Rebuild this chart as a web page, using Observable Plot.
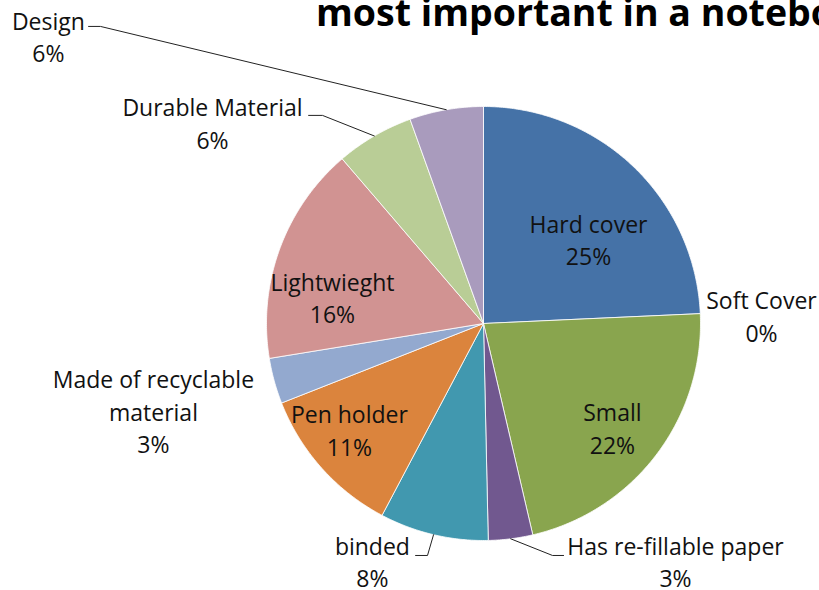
<!DOCTYPE html>
<html>
<head>
<meta charset="utf-8">
<script src="https://cdn.jsdelivr.net/npm/d3@7"></script>
<script src="https://cdn.jsdelivr.net/npm/@observablehq/plot@0.6"></script>
<style>
  html, body { margin: 0; padding: 0; background: #fff; width: 819px; height: 590px; overflow: hidden; }
  #wrap { position: relative; width: 819px; height: 590px; overflow: hidden; }
  #title { position: absolute; left: 316px; top: -7px; white-space: nowrap; line-height: 1;
           font-family: "Open Sans", sans-serif; font-weight: 700; font-size: 37.5px; color: #000; }
  svg { position: absolute; left: 0; top: 0; }
</style>
</head>
<body>
<div id="wrap">
  <div id="title">most important in a notebook</div>
</div>
<script>
// ---- data ----
const categories = ["Hard cover", "Soft Cover", "Small", "Has re-fillable paper", "binded",
                    "Pen holder", "Made of recyclable material", "Lightwieght", "Durable Material", "Design"];
const shares = [24.3, 0, 22.1, 3.3, 8.1, 11.3, 3.4, 16.3, 5.8, 5.5];
const pctLabels = ["25%", "0%", "22%", "3%", "8%", "11%", "3%", "16%", "6%", "6%"];
const labelText = ["Hard cover", "Soft Cover", "Small", "Has re-fillable paper", "binded",
                   "Pen holder", "Made of recyclable\nmaterial", "Lightwieght", "Durable Material", "Design"];

// ---- styles ----
const colors = ["#4572A7", "#AA4643", "#89A54E", "#71588F", "#4198AF",
                "#DB843D", "#93A9CF", "#D19392", "#B9CD96", "#A99BBD"];

// ---- label layout (in pie-radius units, center = 0,0) ----
const labelPos = [[0.484, 0.392], [1.281, 0.039], [0.594, -0.477], [0.885, -1.092], [-0.512, -1.092],
                  [-0.618, -0.486], [-1.521, -0.401], [-0.696, 0.124], [-1.249, 0.928], [-2.005, 1.327]];
// leader elbows: [elbowX, elbowY, endX] or null
const leaders = [null, null, null, [0.318, -1.069, 0.369], [-0.258, -1.069, -0.313],
                 null, null, null, [-0.742, 0.959, -0.806], [-1.765, 1.369, -1.820]];

// ---- build geometry from data ----
const pie = d3.pie().sort(null).value(d => d)(shares);
const slices = [];
pie.forEach((p, i) => {
  if (p.value <= 0) return;
  const name = categories[i];
  slices.push({name, x: 0, y: 0});
  const steps = Math.max(2, Math.ceil((p.endAngle - p.startAngle) / (Math.PI / 360)));
  for (let k = 0; k <= steps; k++) {
    const a = p.startAngle + (p.endAngle - p.startAngle) * k / steps;
    slices.push({name, x: Math.sin(a), y: Math.cos(a)});
  }
  slices.push({name, x: 0, y: 0});
});

const leaderPts = [];
pie.forEach((p, i) => {
  const L = leaders[i];
  if (!L) return;
  const mid = (p.startAngle + p.endAngle) / 2;
  const name = categories[i];
  leaderPts.push({name, x: Math.sin(mid), y: Math.cos(mid)});
  leaderPts.push({name, x: L[0], y: L[1]});
  leaderPts.push({name, x: L[2], y: L[1]});
});

const labels = categories.map((c, i) => ({
  name: c, x: labelPos[i][0], y: labelPos[i][1], text: labelText[i] + "\n" + pctLabels[i]
}));

const chart = Plot.plot({
  width: 819,
  height: 590,
  margin: 0,
  x: {domain: [-1, 1], range: [266, 700], axis: null},
  y: {domain: [-1, 1], range: [540, 106], axis: null},
  color: {domain: categories, range: colors},
  style: {background: "transparent", overflow: "visible"},
  marks: [
    Plot.line(slices, {x: "x", y: "y", z: "name", fill: "name", stroke: "white", strokeWidth: 0.8, curve: "linear"}),
    Plot.line(leaderPts, {x: "x", y: "y", z: "name", stroke: "#222", strokeWidth: 1}),
    Plot.text(labels, {x: "x", y: "y", text: "text", fontSize: 23, lineHeight: 1.41,
                       fill: "#111", fontFamily: "Open Sans", textAnchor: "middle"})
  ]
});
document.getElementById("wrap").appendChild(chart);
</script>
</body>
</html>
